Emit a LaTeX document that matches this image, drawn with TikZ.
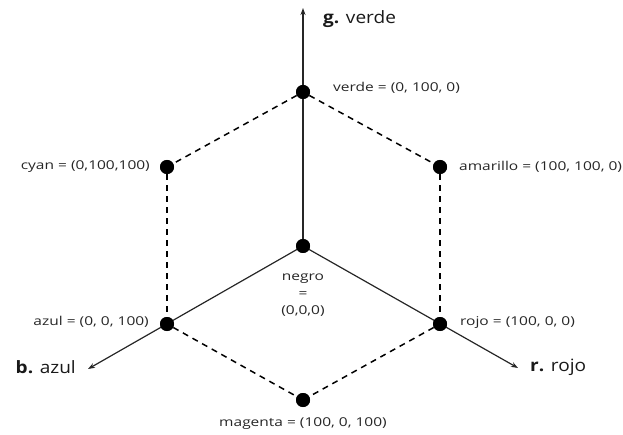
\documentclass[tikz,border=0pt]{standalone}
\usepackage{fontspec}
\setmainfont{Open Sans}
\newfontfamily\widesans[FakeStretch=1.27]{Open Sans}
\newfontfamily\axissans[FakeStretch=1.12]{Open Sans}
\usetikzlibrary{arrows.meta}
\begin{document}
\begin{tikzpicture}[x=1pt,y=-1pt,
  dot/.style={circle,fill=black,inner sep=0pt,minimum size=14pt},
  axis/.style={draw=black!85,line width=1.2pt,-{Stealth[length=7pt,width=5pt]}},
  edge/.style={draw=black,line width=1.5pt,dash pattern=on 6pt off 5pt},
  lbl/.style={font=\widesans\fontsize{12.2}{13}\selectfont,text=black!85,inner sep=0pt},
  axlbl/.style={font=\axissans\fontsize{17}{20}\selectfont,text=black!90,inner sep=0pt,anchor=west}]
\useasboundingbox (0,0) rectangle (623,435);

% corner points of the colour cube
\node[dot] (k) at (303,246) {};
\node[dot] (g) at (303,92) {};
\node[dot] (c) at (167,167) {};
\node[dot] (y) at (440,167) {};
\node[dot] (b) at (167,324) {};
\node[dot] (r) at (440,324) {};
\node[dot] (m) at (303,400) {};

% axis ends
\coordinate (gend) at (303,8);
\coordinate (bend) at (88,369);
\coordinate (rend) at (518,368);

% axes
\draw[axis] (k.center) -- (gend);
\draw[axis] (k.center) -- (bend);
\draw[axis] (k.center) -- (rend);

% dashed cube edges
\draw[edge] (g) -- (c);
\draw[edge] (g) -- (y);
\draw[edge] (c) -- (b);
\draw[edge] (y) -- (r);
\draw[edge] (b) -- (m);
\draw[edge] (r) -- (m);

% redraw dots on top
\foreach \p in {k,g,c,y,b,r,m} \fill (\p) circle (7pt);

% axis labels
\node[axlbl] (glab) at (323,19) {\textbf{g.} verde};
\node[axlbl,anchor=east] (blab) at (76,367) {\textbf{b.} azul};
\node[axlbl] (rlab) at (530,367) {\textbf{r.} rojo};

% point labels
\node[lbl,anchor=west] (gl) at (333,88) {verde = (0, 100, 0)};
\node[lbl,anchor=east] (cl) at (150,167) {cyan = (0,100,100)};
\node[lbl,anchor=west] (yl) at (459,167) {amarillo = (100, 100, 0)};
\node[lbl,anchor=east] (bl) at (149,322) {azul = (0, 0, 100)};
\node[lbl,anchor=west] (rl) at (460,322) {rojo = (100, 0, 0)};
\node[lbl,align=center,font=\widesans\fontsize{12.2}{17}\selectfont] (kl) at (303,295) {negro\\=\\(0,0,0)};
\node[lbl] (ml) at (303,424) {magenta = (100, 0, 100)};
\end{tikzpicture}
\end{document}
